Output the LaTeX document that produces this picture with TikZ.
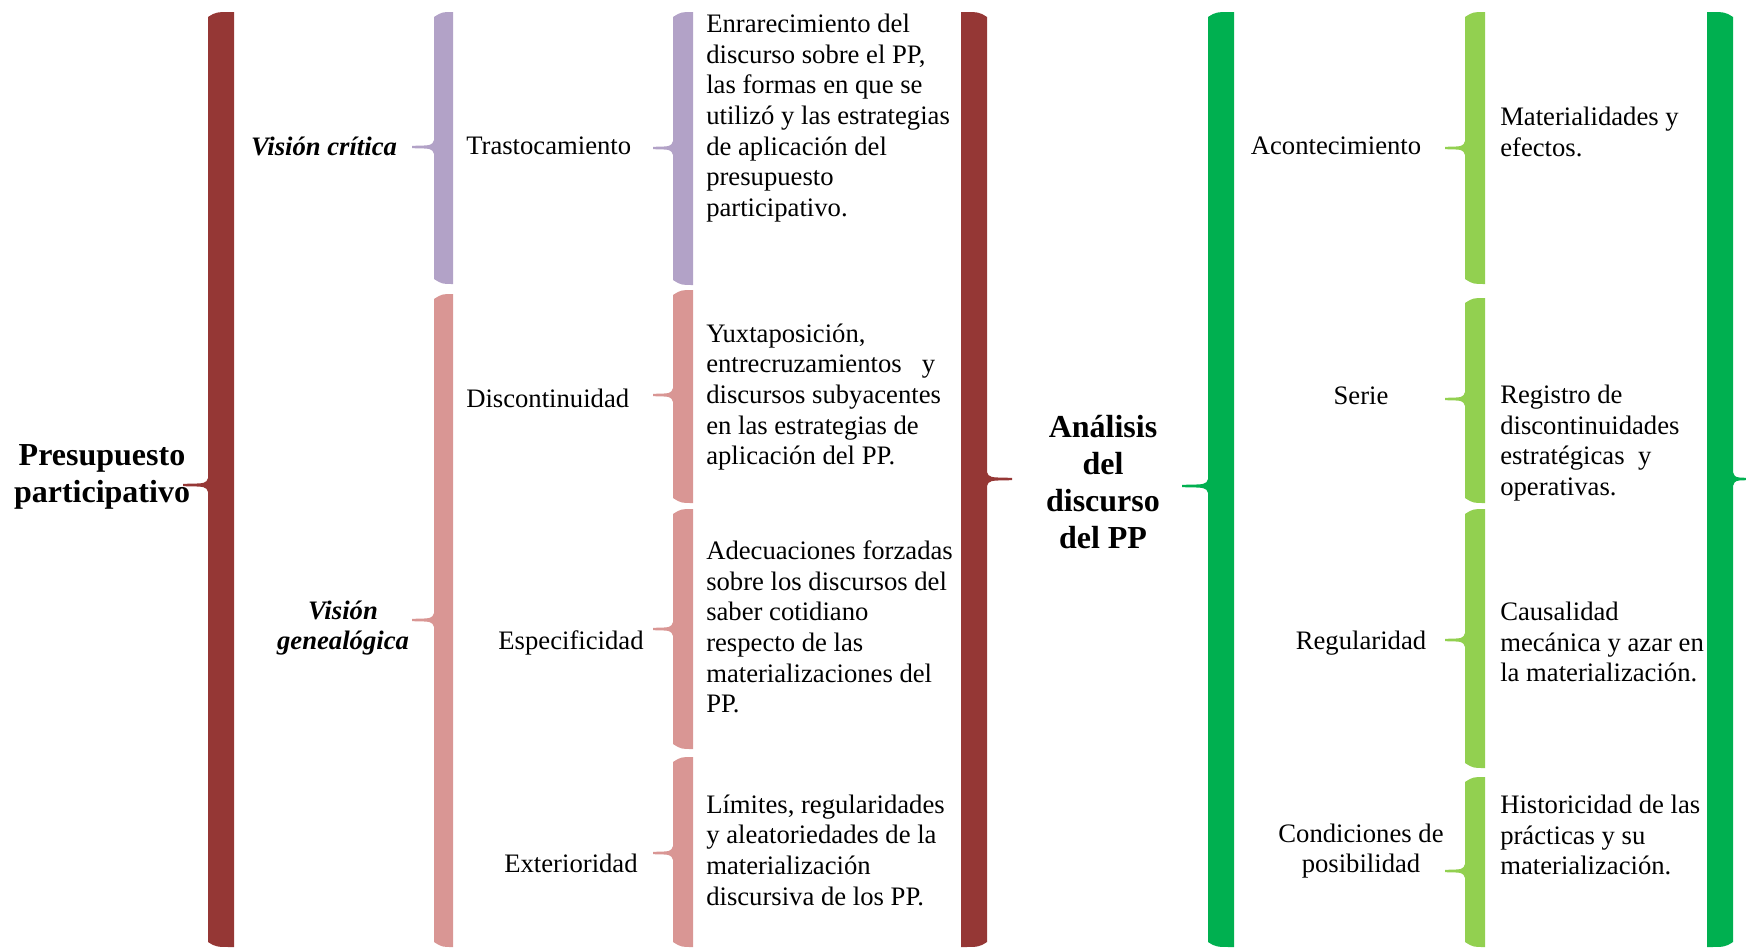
\documentclass[tikz,border=0pt]{standalone}
\usepackage{fontspec}
\setmainfont{Liberation Serif}
\usetikzlibrary{positioning}

\definecolor{rojo}{HTML}{953735}
\definecolor{lila}{HTML}{B2A2C7}
\definecolor{rosa}{HTML}{D99694}
\definecolor{verde}{HTML}{00B050}
\definecolor{verdecl}{HTML}{92D050}

% llave con la punta a la izquierda: color, x izq, x der, y arriba, y abajo, y punta, x punta
\newcommand{\llaveizq}[7]{%
  \fill[#1] (#2,#4+5) .. controls (#2+8,#4) .. (#3,#4) -- (#3,#5)
    .. controls (#2+8,#5) .. (#2,#5-5) -- (#2,#6+7)
    .. controls (#2-2,#6+1.5) .. (#7,#6+1.2) -- (#7,#6-1.2)
    .. controls (#2-2,#6-1.5) .. (#2,#6-7) -- cycle;}
% llave con la punta a la derecha
\newcommand{\llaveder}[7]{%
  \fill[#1] (#3,#4+5) .. controls (#3-8,#4) .. (#2,#4) -- (#2,#5)
    .. controls (#3-8,#5) .. (#3,#5-5) -- (#3,#6+7)
    .. controls (#3+2,#6+1.5) .. (#7,#6+1.2) -- (#7,#6-1.2)
    .. controls (#3+2,#6-1.5) .. (#3,#6-7) -- cycle;}

\tikzset{
  texto/.style={inner sep=0pt,align=left,anchor=west,font=\fontsize{20}{23}\selectfont},
  rotulo/.style={inner sep=0pt,align=center,font=\fontsize{20}{23}\selectfont},
  vision/.style={inner sep=0pt,align=center,font=\fontsize{20}{23}\selectfont\bfseries\itshape},
  titulo/.style={inner sep=0pt,align=center,font=\fontsize{24}{27.6}\selectfont\bfseries}
}

\begin{document}
\begin{tikzpicture}[x=0.75pt,y=-0.75pt]
  \useasboundingbox (0,0) rectangle (1746,950);

  % llaves
  \foreach \c/\xa/\xb/\ya/\yb/\ym/\xt in {
      rojo/208/234/12/947/485/183,
      lila/434/453/12/284/147/412,
      rosa/434/453/294/947/620/412,
      lila/673/693/12/285/148/653,
      rosa/673/693/290/503/395/653,
      rosa/673/693/509/749/629/653,
      rosa/673/693/757/947/853/653,
      verde/1208/1234/12/947/486/1182,
      verdecl/1465/1485/12/284/148/1445,
      verdecl/1465/1485/298/503/399/1445,
      verdecl/1465/1485/509/768/640/1445,
      verdecl/1465/1485/777/947/871/1445
  }
  \llaveizq{\c}{\xa}{\xb}{\ya}{\yb}{\ym}{\xt};
  \foreach \c/\xa/\xb/\ym/\xt in {rojo/961/987/479/1012, verde/1707/1733/479/1746}
  \llaveder{\c}{\xa}{\xb}{12}{947}{\ym}{\xt};

  % titulos
  \node[titulo] (pp) at (102,477) {Presupuesto\\participativo};
  \node[titulo] (analisis) at (1103,482) {Análisis\\del\\discurso\\del PP};

  % visiones
  \node[vision] (critica) at (324,146) {Visión crítica};
  \node[vision] (genea) at (343,628) {Visión\\genealógica};

  % categorias
  \node[texto] (trasto) at (466,146) {Trastocamiento};
  \node[texto] (discon) at (466,398) {Discontinuidad};
  \node[rotulo] (especi) at (571,643) {Especificidad};
  \node[rotulo] (exter) at (571,863) {Exterioridad};

  % descripciones
  \node[texto] (enrar) at (706,118) {Enrarecimiento del\\discurso sobre el PP,\\las formas en que se\\utilizó y las estrategias\\de aplicación del\\presupuesto\\participativo.};
  \node[texto] (yuxta) at (706,397) {Yuxtaposición,\\entrecruzamientos\hspace{0.75em}y\\discursos subyacentes\\en las estrategias de\\aplicación del PP.};
  \node[texto] (adecu) at (706,627) {Adecuaciones forzadas\\sobre los discursos del\\saber cotidiano\\respecto de las\\materializaciones del\\PP.};
  \node[texto] (limit) at (706,850) {Límites, regularidades\\y aleatoriedades de la\\materialización\\discursiva de los PP.};

  % analisis
  \node[rotulo] (aconte) at (1336,146) {Acontecimiento};
  \node[rotulo] (serie) at (1361,396) {Serie};
  \node[rotulo] (regul) at (1361,643) {Regularidad};
  \node[rotulo] (condi) at (1361,851) {Condiciones de\\posibilidad};

  \node[texto] (materi) at (1500,132) {Materialidades y\\efectos.};
  \node[texto] (regis) at (1500,443) {Registro de\\discontinuidades\\estratégicas\hspace{0.5em}y\\operativas.};
  \node[texto] (causa) at (1500,642) {Causalidad\\mecánica y azar en\\la materialización.};
  \node[texto] (histo) at (1500,835) {Historicidad de las\\prácticas y su\\materialización.};
\end{tikzpicture}
\end{document}
